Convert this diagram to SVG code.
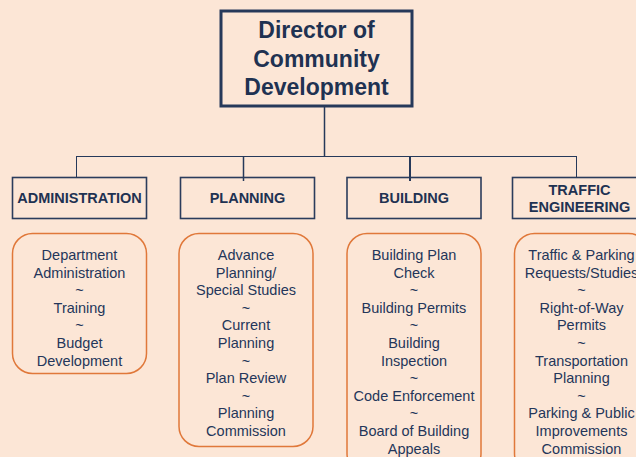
<svg xmlns="http://www.w3.org/2000/svg" width="636" height="457" viewBox="0 0 636 457">
  <style>
    .bg { fill: #fce6d6; }
    .head { fill: none; stroke: #26395a; }
    .unit { fill: none; stroke: #2b3c5c; stroke-width: 1.6; }
    .duty { fill: none; stroke: #e0783a; stroke-width: 1.5; }
    .link { fill: none; stroke: #26395a; }
    .t-head { font-family: "Liberation Sans", Arial, sans-serif; font-weight: bold; font-size: 23px; fill: #1f3252; text-anchor: middle; }
    .t-unit { font-family: "Liberation Sans", Arial, sans-serif; font-weight: bold; font-size: 14.5px; fill: #1f3252; text-anchor: middle; }
    .t-duty { font-family: "Liberation Sans", Arial, sans-serif; font-size: 14.5px; fill: #24365a; text-anchor: middle; }
  </style>
  <rect class="bg" x="0" y="0" width="636" height="457"/>

  <!-- connectors -->
  <g id="connectors">
    <line class="link" x1="324.5" y1="106" x2="324.5" y2="156.5" stroke-width="1.5"/>
    <line class="link" x1="76" y1="156.5" x2="577" y2="156.5" stroke-width="1" stroke="#55657e"/>
    <line class="link" x1="76.5" y1="156" x2="76.5" y2="178" stroke-width="1" stroke="#55657e"/>
    <line class="link" x1="243.5" y1="156" x2="243.5" y2="181" stroke-width="1.5"/>
    <line class="link" x1="410" y1="156" x2="410" y2="181" stroke-width="2"/>
    <line class="link" x1="576.5" y1="156" x2="576.5" y2="178" stroke-width="1" stroke="#55657e"/>
  </g>

  <!-- top node -->
  <g id="director">
    <rect class="head" x="221" y="11" width="191" height="95" stroke-width="3"/>
    <text class="t-head" x="316.5" y="37.5">Director of</text>
    <text class="t-head" x="316.5" y="66.5">Community</text>
    <text class="t-head" x="316.5" y="95">Development</text>
  </g>

  <!-- divisions -->
  <g id="administration">
    <rect class="unit" x="12.5" y="177.5" width="134" height="41"/>
    <text class="t-unit" x="79.5" y="203">ADMINISTRATION</text>
  </g>
  <g id="planning">
    <rect class="unit" x="180.5" y="177.5" width="134" height="41"/>
    <text class="t-unit" x="247.5" y="203">PLANNING</text>
  </g>
  <g id="building">
    <rect class="unit" x="347" y="177.5" width="134" height="41"/>
    <text class="t-unit" x="414" y="203">BUILDING</text>
  </g>
  <g id="traffic-engineering">
    <rect class="unit" x="512.5" y="177.5" width="134" height="41"/>
    <text class="t-unit" x="579.5" y="195">TRAFFIC</text>
    <text class="t-unit" x="579.5" y="212">ENGINEERING</text>
  </g>

  <!-- duties -->
  <g id="administration-duties">
    <rect class="duty" x="12.5" y="233.5" width="134" height="140" rx="20"/>
    <text class="t-duty" x="79.5" y="260">Department</text>
    <text class="t-duty" x="79.5" y="277.6">Administration</text>
    <text class="t-duty" x="79.5" y="295.2">~</text>
    <text class="t-duty" x="79.5" y="312.8">Training</text>
    <text class="t-duty" x="79.5" y="330.4">~</text>
    <text class="t-duty" x="79.5" y="348">Budget</text>
    <text class="t-duty" x="79.5" y="365.6">Development</text>
  </g>
  <g id="planning-duties">
    <rect class="duty" x="179" y="233.5" width="134" height="213" rx="20"/>
    <text class="t-duty" x="246" y="260">Advance</text>
    <text class="t-duty" x="246" y="277.6">Planning/</text>
    <text class="t-duty" x="246" y="295.2">Special Studies</text>
    <text class="t-duty" x="246" y="312.8">~</text>
    <text class="t-duty" x="246" y="330.4">Current</text>
    <text class="t-duty" x="246" y="348">Planning</text>
    <text class="t-duty" x="246" y="365.6">~</text>
    <text class="t-duty" x="246" y="383.2">Plan Review</text>
    <text class="t-duty" x="246" y="400.8">~</text>
    <text class="t-duty" x="246" y="418.4">Planning</text>
    <text class="t-duty" x="246" y="436">Commission</text>
  </g>
  <g id="building-duties">
    <rect class="duty" x="347" y="233.5" width="134" height="240" rx="20"/>
    <text class="t-duty" x="414" y="260">Building Plan</text>
    <text class="t-duty" x="414" y="277.6">Check</text>
    <text class="t-duty" x="414" y="295.2">~</text>
    <text class="t-duty" x="414" y="312.8">Building Permits</text>
    <text class="t-duty" x="414" y="330.4">~</text>
    <text class="t-duty" x="414" y="348">Building</text>
    <text class="t-duty" x="414" y="365.6">Inspection</text>
    <text class="t-duty" x="414" y="383.2">~</text>
    <text class="t-duty" x="414" y="400.8">Code Enforcement</text>
    <text class="t-duty" x="414" y="418.4">~</text>
    <text class="t-duty" x="414" y="436">Board of Building</text>
    <text class="t-duty" x="414" y="453.6">Appeals</text>
  </g>
  <g id="traffic-duties">
    <rect class="duty" x="514.5" y="233.5" width="134" height="240" rx="20"/>
    <text class="t-duty" x="581.5" y="260">Traffic &amp; Parking</text>
    <text class="t-duty" x="581.5" y="277.6">Requests/Studies</text>
    <text class="t-duty" x="581.5" y="295.2">~</text>
    <text class="t-duty" x="581.5" y="312.8">Right-of-Way</text>
    <text class="t-duty" x="581.5" y="330.4">Permits</text>
    <text class="t-duty" x="581.5" y="348">~</text>
    <text class="t-duty" x="581.5" y="365.6">Transportation</text>
    <text class="t-duty" x="581.5" y="383.2">Planning</text>
    <text class="t-duty" x="581.5" y="400.8">~</text>
    <text class="t-duty" x="581.5" y="418.4">Parking &amp; Public</text>
    <text class="t-duty" x="581.5" y="436">Improvements</text>
    <text class="t-duty" x="581.5" y="453.6">Commission</text>
  </g>
</svg>
